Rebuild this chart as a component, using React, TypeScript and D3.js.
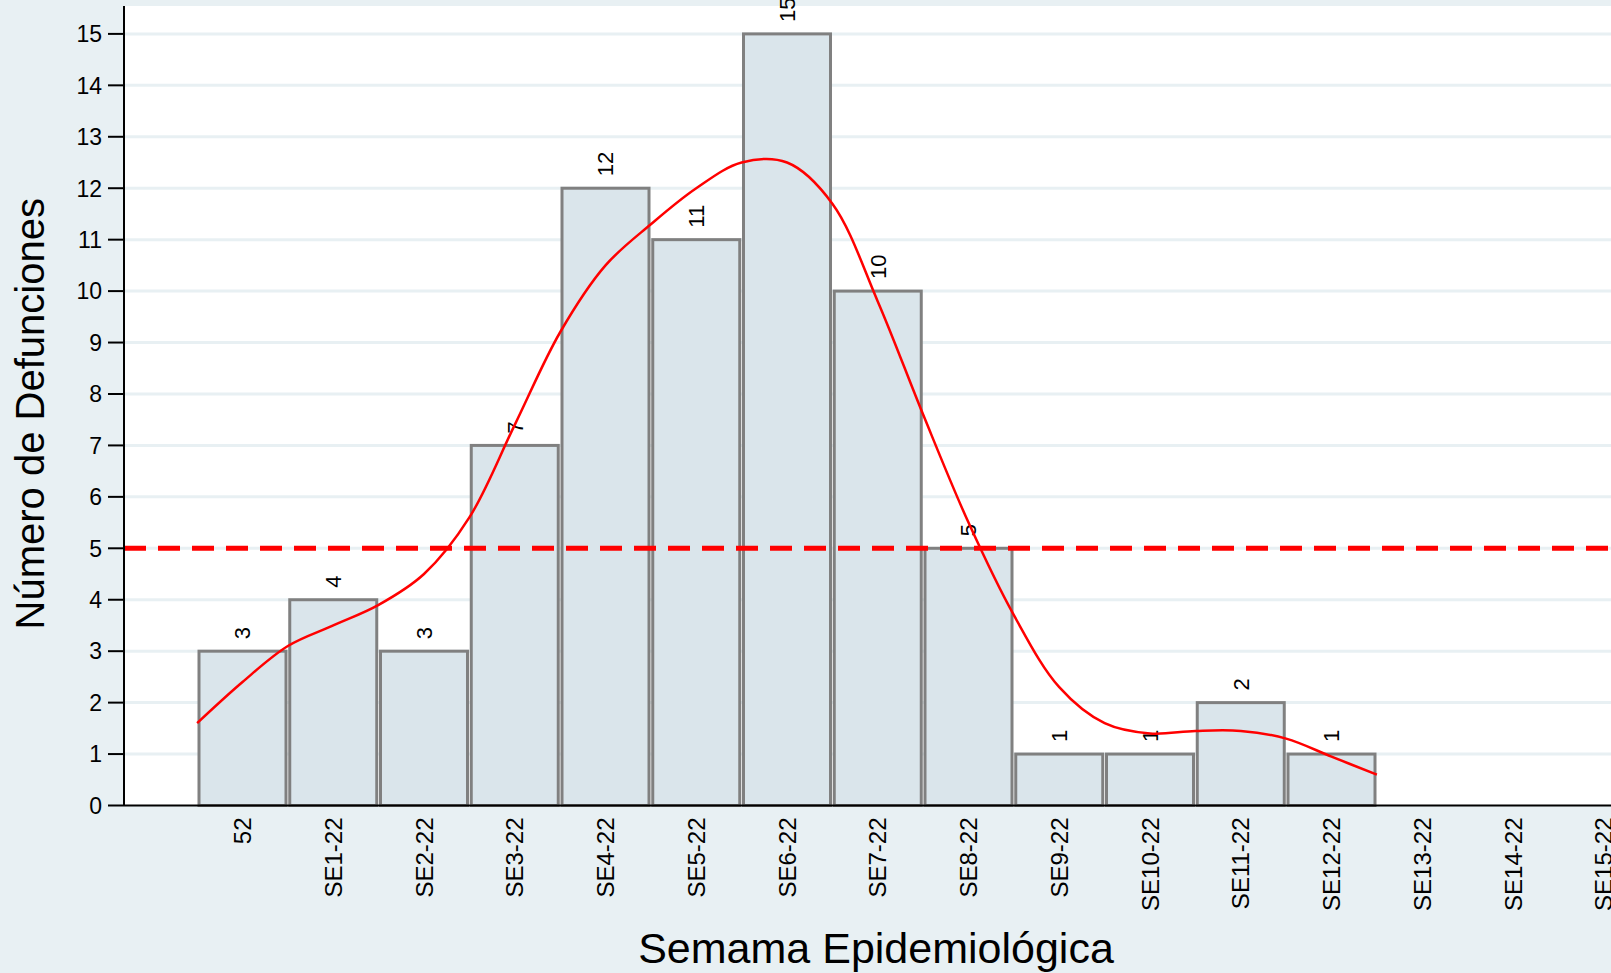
import React from "react";
import * as d3 from "d3";

const categories = ["52", "SE1-22", "SE2-22", "SE3-22", "SE4-22", "SE5-22", "SE6-22", "SE7-22", "SE8-22", "SE9-22", "SE10-22", "SE11-22", "SE12-22", "SE13-22", "SE14-22", "SE15-22"];
const deaths = [3, 4, 3, 7, 12, 11, 15, 10, 5, 1, 1, 2, 1];
const yTicks = d3.range(0, 16);
const threshold = 5;
// suavizado (posición de categoría, valor)
const curveX = [-0.5, 0, 0.5, 1, 1.5, 2, 2.5, 3, 3.5, 4, 4.5, 5, 5.5, 6, 6.5, 7, 7.5, 8, 8.5, 9, 9.5, 10, 10.5, 11, 11.5, 12, 12.5];
const curveY = [1.6, 2.4, 3.1, 3.5, 3.9, 4.5, 5.6, 7.4, 9.2, 10.5, 11.3, 12.0, 12.5, 12.5, 11.7, 9.8, 7.6, 5.5, 3.7, 2.3, 1.6, 1.4, 1.45, 1.45, 1.3, 0.95, 0.6];

const W = 1611, H = 973;
const left = 124, top = 6, bottom = 805.5;
const step = 90.75;
const x0 = 242.5;

export default function App() {
  const y = d3.scaleLinear().domain([0, 15]).range([bottom, 33.9]);
  const x = d3.scaleLinear().domain([0, 1]).range([x0, x0 + step]);
  const line = d3.line<number>().x((_, i) => x(curveX[i])).y(d => y(d)).curve(d3.curveCatmullRom);
  const bw = 87;
  const font = "Arial, 'Liberation Sans', sans-serif";
  return (
    <svg width={W} height={H} style={{ position: "absolute", left: 0, top: 0 }} fontFamily={font}>
      <rect width={W} height={H} fill="#e8f0f3" />
      <rect x={left} y={top} width={W - left} height={bottom - top} fill="#ffffff" />
      {yTicks.map(t => (
        <g key={t}>
          {t > 0 && <line x1={left} x2={W} y1={y(t)} y2={y(t)} stroke="#e8f0f3" strokeWidth={3} />}
          <line x1={left - 16} x2={left} y1={y(t)} y2={y(t)} stroke="#000" strokeWidth={2} />
          <text x={left - 22} y={y(t)} dy="0.36em" textAnchor="end" fontSize={23}>{t}</text>
        </g>
      ))}
      {deaths.map((d, i) => (
        <g key={i}>
          <rect x={x(i) - bw / 2} y={y(d)} width={bw} height={y(0) - y(d)} fill="#dae5eb" stroke="#808080" strokeWidth={3} />
          <text transform={`translate(${x(i)},${y(d) - 12}) rotate(-90)`} dy="0.36em" fontSize={22}>{d}</text>
        </g>
      ))}
      <path d={line(curveY) ?? ""} fill="none" stroke="#ff0000" strokeWidth={2.5} />
      <line x1={left} x2={W} y1={y(threshold)} y2={y(threshold)} stroke="#ff0000" strokeWidth={5} strokeDasharray="22 12" />
      <line x1={left} x2={left} y1={top} y2={bottom} stroke="#000" strokeWidth={2} />
      <line x1={left} x2={W} y1={bottom} y2={bottom} stroke="#000" strokeWidth={2} />
      {categories.map((c, i) => (
        <text key={c} transform={`translate(${x(i)},${bottom + 12}) rotate(-90)`} dy="0.36em" textAnchor="end" fontSize={24}>{c}</text>
      ))}
      <text transform={`translate(44,${(top + bottom) / 2 + 8}) rotate(-90)`} textAnchor="middle" fontSize={40}>Número de Defunciones</text>
      <text x={876} y={963} textAnchor="middle" fontSize={43}>Semama Epidemiológica</text>
    </svg>
  );
}
